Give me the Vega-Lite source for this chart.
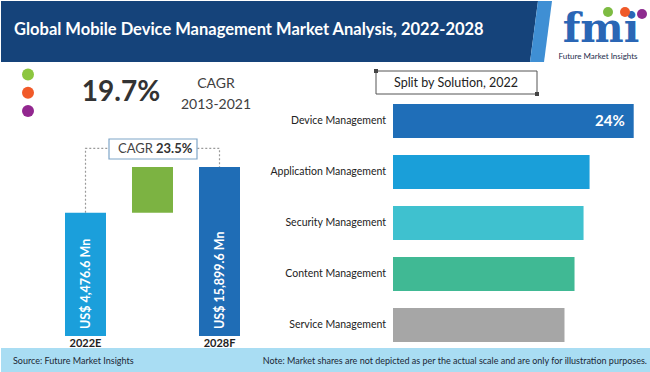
{
  "$schema": "https://vega.github.io/schema/vega-lite/v6.json",
  "width": 650,
  "height": 372,
  "autosize": {"type": "fit", "contains": "padding"},
  "padding": 0,
  "background": "white",
  "config": {"view": {"stroke": null}, "font": "Lato"},
  "datasets": {
    "solution": [
      {"solution": "Device Management", "share": 24, "label": "24%"},
      {"solution": "Application Management", "share": 19.6, "label": null},
      {"solution": "Security Management", "share": 19.0, "label": null},
      {"solution": "Content Management", "share": 18.1, "label": null},
      {"solution": "Service Management", "share": 17.1, "label": null}
    ],
    "waterfall": [
      {"period": "2022E", "start": 0, "end": 73, "label": "US$ 4,476.6 Mn"},
      {"period": "growth", "start": 73, "end": 100, "label": null},
      {"period": "2028F", "start": 0, "end": 100, "label": "US$ 15,899.6 Mn"}
    ],
    "connector": [
      {"period": "2022E", "level": 73, "step": 1},
      {"period": "2022E", "level": 111, "step": 2},
      {"period": "2028F", "level": 111, "step": 3},
      {"period": "2028F", "level": 100, "step": 4}
    ],
    "dots": [{"item": 1}, {"item": 2}, {"item": 3}]
  },
  "layer": [
    {
      "data": {"values": [{}]},
      "mark": {"type": "point", "shape": "M0,0L537,0L529,61L0,61Z", "size": 4, "x": 0, "y": 0, "filled": true, "opacity": 1, "fill": "#15437a", "strokeWidth": 0},
      "encoding": {}
    },
    {
      "data": {"values": [{}]},
      "mark": {"type": "point", "shape": "M537,0L551,0L543,61L529,61Z", "size": 4, "x": 0, "y": 0, "filled": true, "opacity": 1, "fill": "#3f8fd4", "strokeWidth": 0},
      "encoding": {}
    },
    {
      "data": {"values": [{}]},
      "mark": {"type": "text", "text": "Global Mobile Device Management Market Analysis, 2022-2028", "x": 13, "y": 29, "align": "left", "baseline": "middle", "fontSize": 16.5, "fontWeight": "bold", "color": "white"},
      "encoding": {}
    },
    {
      "data": {"values": [{}]},
      "mark": {"type": "text", "text": "fmi", "x": 600, "y": 50, "align": "center", "baseline": "bottom", "fontSize": 41, "fontWeight": "bold", "font": "DejaVu Serif", "color": "#2a66b5"},
      "encoding": {}
    },
    {
      "data": {"values": [{}]},
      "mark": {"type": "point", "x": 607, "y": 11, "size": 100, "filled": true, "opacity": 1, "color": "#7dbb42"},
      "encoding": {}
    },
    {
      "data": {"values": [{}]},
      "mark": {"type": "point", "x": 624, "y": 11, "size": 100, "filled": true, "opacity": 1, "color": "#ef5a2a"},
      "encoding": {}
    },
    {
      "data": {"values": [{}]},
      "mark": {"type": "point", "x": 641, "y": 13, "size": 100, "filled": true, "opacity": 1, "color": "#8e2b8f"},
      "encoding": {}
    },
    {
      "data": {"values": [{}]},
      "mark": {"type": "text", "text": "Future Market Insights", "x": 597, "y": 55.5, "align": "center", "baseline": "middle", "fontSize": 8, "color": "#1c2c4c"},
      "encoding": {}
    },
    {
      "data": {"values": [{}]},
      "mark": {"type": "rect", "x": 0, "x2": 650, "y": 347, "y2": 372, "fill": "#a9ddf3"},
      "encoding": {}
    },
    {
      "data": {"values": [{}]},
      "mark": {"type": "text", "text": "Source: Future Market Insights", "x": 12, "y": 360, "align": "left", "baseline": "middle", "fontSize": 9, "color": "#1b2735"},
      "encoding": {}
    },
    {
      "data": {"values": [{}]},
      "mark": {"type": "text", "text": "Note: Market shares are not depicted as per the actual scale and are only for illustration purposes.", "x": 646, "y": 360, "align": "right", "baseline": "middle", "fontSize": 9, "color": "#1b2735"},
      "encoding": {}
    },
    {
      "data": {"name": "dots"},
      "mark": {"type": "point", "x": 27, "size": 144, "filled": true, "opacity": 1},
      "encoding": {
        "y": {"field": "item", "type": "quantitative", "scale": {"domain": [1, 3], "range": [73.5, 110], "zero": false}, "axis": null},
        "color": {"field": "item", "type": "nominal", "scale": {"domain": [1, 2, 3], "range": ["#8cc63f", "#f15a29", "#92278f"]}, "legend": null}
      }
    },
    {
      "data": {"values": [{}]},
      "mark": {"type": "text", "text": "19.7%", "x": 120, "y": 100, "align": "center", "baseline": "alphabetic", "fontSize": 28, "fontWeight": "bold", "color": "#333333"},
      "encoding": {}
    },
    {
      "data": {"values": [{}]},
      "mark": {"type": "text", "text": "CAGR", "x": 215, "y": 87, "align": "center", "baseline": "alphabetic", "fontSize": 14, "color": "#404040"},
      "encoding": {}
    },
    {
      "data": {"values": [{}]},
      "mark": {"type": "text", "text": "2013-2021", "x": 215, "y": 108, "align": "center", "baseline": "alphabetic", "fontSize": 14, "color": "#404040"},
      "encoding": {}
    },
    {
      "data": {"values": [{}]},
      "mark": {"type": "rule", "x": 20, "x2": 290, "y": 127, "color": "#b5b5b5", "strokeDash": [4, 2], "strokeWidth": 1},
      "encoding": {}
    },
    {
      "data": {"name": "connector"},
      "mark": {"type": "line", "color": "#9a9a9a", "strokeDash": [2, 2], "strokeWidth": 1.2},
      "encoding": {
        "x": {"field": "period", "type": "nominal", "scale": {"domain": ["2022E", "growth", "2028F"], "range": [51, 252]}, "axis": null},
        "y": {"field": "level", "type": "quantitative", "scale": {"domain": [0, 100], "range": [335, 166]}, "axis": null},
        "order": {"field": "step", "type": "quantitative"}
      }
    },
    {
      "data": {"name": "waterfall"},
      "mark": {"type": "bar"},
      "encoding": {
        "x": {"field": "period", "type": "nominal", "scale": {"domain": ["2022E", "growth", "2028F"], "range": [51, 252], "paddingInner": 0.388, "paddingOuter": 0.194}, "axis": null},
        "y": {"field": "start", "type": "quantitative", "scale": {"domain": [0, 100], "range": [335, 166]}, "axis": null},
        "y2": {"field": "end"},
        "color": {"field": "period", "type": "nominal", "scale": {"domain": ["2022E", "growth", "2028F"], "range": ["#1b9fdb", "#7cb342", "#1f6db6"]}, "legend": null}
      }
    },
    {
      "data": {"name": "waterfall"},
      "transform": [{"filter": "datum.label != null"}],
      "mark": {"type": "text", "angle": 270, "align": "left", "baseline": "middle", "dx": 7, "fontSize": 12.5, "fontWeight": "bold", "color": "white"},
      "encoding": {
        "x": {"field": "period", "type": "nominal", "scale": {"domain": ["2022E", "growth", "2028F"], "range": [51, 252]}, "axis": null},
        "y": {"field": "start", "type": "quantitative", "scale": {"domain": [0, 100], "range": [335, 166]}, "axis": null},
        "text": {"field": "label"}
      }
    },
    {
      "data": {"name": "waterfall"},
      "transform": [{"filter": "datum.label != null"}],
      "mark": {"type": "text", "baseline": "middle", "align": "center", "dy": 8, "fontSize": 11, "fontWeight": "bold", "color": "#222222"},
      "encoding": {
        "x": {"field": "period", "type": "nominal", "scale": {"domain": ["2022E", "growth", "2028F"], "range": [51, 252]}, "axis": null},
        "y": {"field": "start", "type": "quantitative", "scale": {"domain": [0, 100], "range": [335, 166]}, "axis": null},
        "text": {"field": "period"}
      }
    },
    {
      "data": {"values": [{}]},
      "mark": {"type": "rule", "x": 17, "x2": 292, "y": 335, "color": "#555555", "strokeWidth": 1},
      "encoding": {}
    },
    {
      "data": {"values": [{}]},
      "mark": {"type": "rect", "x": 108, "x2": 196, "y": 138, "y2": 158, "fill": "white", "stroke": "#7fa6c8", "strokeWidth": 1.2},
      "encoding": {}
    },
    {
      "data": {"values": [{}]},
      "mark": {"type": "text", "text": "CAGR", "x": 152, "y": 148, "align": "right", "baseline": "middle", "fontSize": 13, "color": "#444444"},
      "encoding": {}
    },
    {
      "data": {"values": [{}]},
      "mark": {"type": "text", "text": "23.5%", "x": 155, "y": 148, "align": "left", "baseline": "middle", "fontSize": 13, "fontWeight": "bold", "color": "#333333"},
      "encoding": {}
    },
    {
      "data": {"values": [{}]},
      "mark": {"type": "rect", "x": 375, "x2": 536, "y": 70, "y2": 93, "fill": "white", "stroke": "#555555", "strokeWidth": 1},
      "encoding": {}
    },
    {
      "data": {"values": [{}]},
      "mark": {"type": "point", "shape": "square", "x": 375, "y": 70, "size": 16, "filled": true, "opacity": 1, "color": "#444444"},
      "encoding": {}
    },
    {
      "data": {"values": [{}]},
      "mark": {"type": "point", "shape": "square", "x": 536, "y": 93, "size": 16, "filled": true, "opacity": 1, "color": "#444444"},
      "encoding": {}
    },
    {
      "data": {"values": [{}]},
      "mark": {"type": "text", "text": "Split by Solution, 2022", "x": 455, "y": 82, "align": "center", "baseline": "middle", "fontSize": 12.5, "color": "#222222"},
      "encoding": {}
    },
    {
      "data": {"name": "solution"},
      "mark": {"type": "bar"},
      "encoding": {
        "y": {"field": "solution", "type": "nominal", "sort": null, "scale": {"type": "band", "domain": ["Device Management", "Application Management", "Security Management", "Content Management", "Service Management"], "range": [103, 341], "paddingInner": 0.333, "paddingOuter": 0}, "axis": null},
        "x": {"field": "share", "type": "quantitative", "scale": {"domain": [0, 24], "range": [392, 632.7]}, "axis": null},
        "color": {"field": "solution", "type": "nominal", "scale": {"domain": ["Device Management", "Application Management", "Security Management", "Content Management", "Service Management"], "range": ["#1f6eb8", "#1a9fd9", "#3fc1cf", "#40b994", "#a6a6a6"]}, "legend": null}
      }
    },
    {
      "data": {"name": "solution"},
      "mark": {"type": "text", "align": "right", "baseline": "middle", "dx": -7, "fontSize": 10.5, "color": "#222222"},
      "encoding": {
        "y": {"field": "solution", "type": "nominal", "sort": null, "scale": {"type": "band", "domain": ["Device Management", "Application Management", "Security Management", "Content Management", "Service Management"], "range": [103, 341], "paddingInner": 0.333, "paddingOuter": 0}, "axis": null},
        "x": {"datum": 0, "type": "quantitative", "scale": {"domain": [0, 24], "range": [392, 632.7]}, "axis": null},
        "text": {"field": "solution"}
      }
    },
    {
      "data": {"name": "solution"},
      "transform": [{"filter": "datum.label != null"}],
      "mark": {"type": "text", "align": "right", "baseline": "middle", "dx": -9, "fontSize": 15, "fontWeight": "bold", "color": "white"},
      "encoding": {
        "y": {"field": "solution", "type": "nominal", "sort": null, "scale": {"type": "band", "domain": ["Device Management", "Application Management", "Security Management", "Content Management", "Service Management"], "range": [103, 341], "paddingInner": 0.333, "paddingOuter": 0}, "axis": null},
        "x": {"field": "share", "type": "quantitative", "scale": {"domain": [0, 24], "range": [392, 632.7]}, "axis": null},
        "text": {"field": "label"}
      }
    }
  ],
  "resolve": {"scale": {"x": "independent", "y": "independent", "color": "independent"}}
}
